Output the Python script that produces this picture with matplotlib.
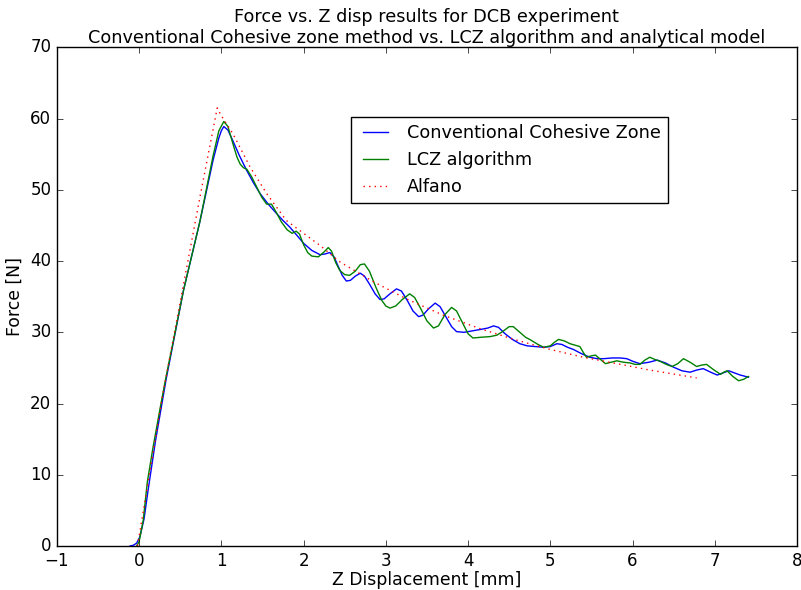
import matplotlib
matplotlib.use("Agg")
import matplotlib.pyplot as plt

plt.style.use('classic')

# Conventional Cohesive Zone (blue)
cz_x = [-0.11, -0.07, -0.03, 0.01, 0.06, 0.11, 0.2, 0.33, 0.54, 0.74, 0.9, 0.97, 1.0, 1.03, 1.08, 1.14,
        1.22, 1.31, 1.39, 1.47, 1.57, 1.67, 1.75, 1.83, 1.92, 2.0, 2.1, 2.2, 2.26, 2.32, 2.37, 2.42, 2.47,
        2.52, 2.57, 2.63, 2.69, 2.74, 2.8, 2.87, 2.93, 2.98, 3.05, 3.13, 3.19, 3.26, 3.33, 3.4, 3.45, 3.52,
        3.6, 3.66, 3.73, 3.8, 3.86, 3.95, 4.05, 4.15, 4.24, 4.31, 4.37, 4.45, 4.54, 4.63, 4.72, 4.82, 4.92,
        5.0, 5.08, 5.14, 5.21, 5.28, 5.38, 5.48, 5.57, 5.65, 5.75, 5.85, 5.93, 6.01, 6.09, 6.2, 6.3, 6.4,
        6.5, 6.6, 6.7, 6.78, 6.86, 6.95, 7.03, 7.1, 7.17, 7.24, 7.31, 7.41]
cz_y = [0.0, 0.1, 0.4, 1.3, 3.8, 7.9, 14.8, 23.5, 35.9, 45.6, 54.2, 57.3, 58.3, 58.9, 58.4, 56.9,
        54.8, 52.7, 51.0, 49.5, 48.0, 46.7, 45.7, 44.8, 43.6, 42.5, 41.5, 40.9, 41.0, 41.2, 40.6, 39.3, 38.0,
        37.2, 37.3, 37.9, 38.3, 37.9, 36.8, 35.4, 34.6, 34.7, 35.4, 36.1, 35.8, 34.5, 33.0, 32.2, 32.4, 33.3,
        34.1, 33.6, 32.2, 30.8, 30.1, 30.0, 30.2, 30.4, 30.6, 30.9, 30.7, 29.8, 29.0, 28.4, 28.1, 28.0, 27.9,
        28.0, 28.4, 28.3, 27.9, 27.6, 27.0, 26.5, 26.3, 26.3, 26.4, 26.4, 26.3, 25.9, 25.6, 25.8, 26.1, 25.7,
        25.1, 24.6, 24.4, 24.7, 24.9, 24.4, 24.0, 24.3, 24.6, 24.3, 24.0, 23.7]

# LCZ algorithm (green)
lcz_x = [-0.03, 0.0, 0.05, 0.1, 0.17, 0.25, 0.32, 0.54, 0.74, 0.9, 0.97, 1.03, 1.08, 1.14, 1.19, 1.23,
         1.27, 1.31, 1.37, 1.43, 1.49, 1.55, 1.61, 1.67, 1.73, 1.8, 1.86, 1.91, 1.95, 2.0, 2.05, 2.1, 2.18,
         2.25, 2.3, 2.34, 2.39, 2.44, 2.5, 2.56, 2.63, 2.69, 2.74, 2.8, 2.88, 2.95, 3.0, 3.05, 3.12, 3.2,
         3.29, 3.35, 3.43, 3.5, 3.58, 3.64, 3.72, 3.8, 3.86, 3.93, 4.0, 4.06, 4.15, 4.27, 4.35, 4.42, 4.5,
         4.55, 4.62, 4.7, 4.75, 4.85, 4.92, 5.0, 5.05, 5.1, 5.17, 5.24, 5.3, 5.36, 5.4, 5.44, 5.5, 5.55,
         5.61, 5.67, 5.74, 5.81, 5.89, 5.97, 6.03, 6.09, 6.15, 6.21, 6.27, 6.34, 6.41, 6.48, 6.55, 6.62,
         6.7, 6.78, 6.84, 6.9, 6.98, 7.07, 7.11, 7.15, 7.22, 7.29, 7.35, 7.41]
lcz_y = [0.0, 0.6, 3.6, 9.0, 13.9, 19.0, 23.3, 35.9, 45.6, 54.8, 58.3, 59.6, 58.9, 56.5, 54.6, 53.6,
         53.1, 52.9, 51.8, 50.4, 49.0, 48.0, 48.0, 46.8, 45.5, 44.4, 43.9, 44.2, 43.8, 42.3, 41.2, 40.7, 40.6,
         41.3, 41.9, 41.4, 39.8, 38.7, 38.1, 38.0, 38.6, 39.5, 39.6, 38.6, 36.3, 34.5, 33.7, 33.4, 33.7, 34.6,
         35.4, 34.9, 33.2, 31.6, 30.6, 30.9, 32.5, 33.5, 33.0, 31.4, 29.8, 29.2, 29.3, 29.4, 29.6, 30.1, 30.8,
         30.8, 30.1, 29.3, 29.0, 28.3, 27.9, 28.1, 28.6, 29.0, 28.8, 28.4, 28.2, 28.0, 27.2, 26.5, 26.7, 26.8,
         26.2, 25.6, 25.8, 26.0, 25.8, 25.7, 25.5, 25.5, 26.1, 26.5, 26.2, 25.9, 25.5, 25.2, 25.6, 26.3,
         25.8, 25.2, 25.4, 25.5, 24.8, 24.1, 24.4, 24.6, 23.8, 23.2, 23.4, 23.8]

# Alfano analytical model (red dotted)
alf_x = [-0.02, 0.05, 0.29, 0.74, 0.95, 1.0, 1.14, 1.35, 1.55, 1.79, 2.0, 2.2, 2.44, 2.85, 3.25, 3.7,
         4.15, 4.59, 5.0, 5.4, 5.81, 6.21, 6.78]
alf_y = [0.0, 4.8, 21.4, 49.0, 61.5, 60.4, 57.9, 53.2, 49.5, 45.7, 43.9, 42.2, 39.9, 37.1, 34.7, 32.4,
         30.5, 28.9, 27.6, 26.5, 25.6, 24.7, 23.6]

fig = plt.figure(figsize=(8.01, 5.9), dpi=100, facecolor='white')
ax = fig.add_axes([0.071, 0.0746, 0.924, 0.845])
ax.set_facecolor('white')

ax.plot(cz_x, cz_y, 'b-', label='Conventional Cohesive Zone')
ax.plot(lcz_x, lcz_y, 'g-', label='LCZ algorithm')
ax.plot(alf_x, alf_y, 'r:', label='Alfano')

ax.set_xlim(-1, 8)
ax.set_ylim(0, 70)
ax.set_xticks(range(-1, 9))
ax.set_yticks(range(0, 71, 10))
ax.tick_params(labelsize=12)
ax.set_xlabel('Z Displacement [mm]', fontsize=12.4, labelpad=1)
ax.set_ylabel('Force [N]', fontsize=12.4)
ax.set_title('Force vs. Z disp results for DCB experiment\nConventional Cohesive zone method vs. LCZ algorithm and analytical model',
             fontsize=12.7, pad=3)
leg = ax.legend(loc='upper left', bbox_to_anchor=(0.397, 0.86), fontsize=12.7, borderaxespad=0)

fig.savefig('out.png', dpi=100, facecolor='white')
